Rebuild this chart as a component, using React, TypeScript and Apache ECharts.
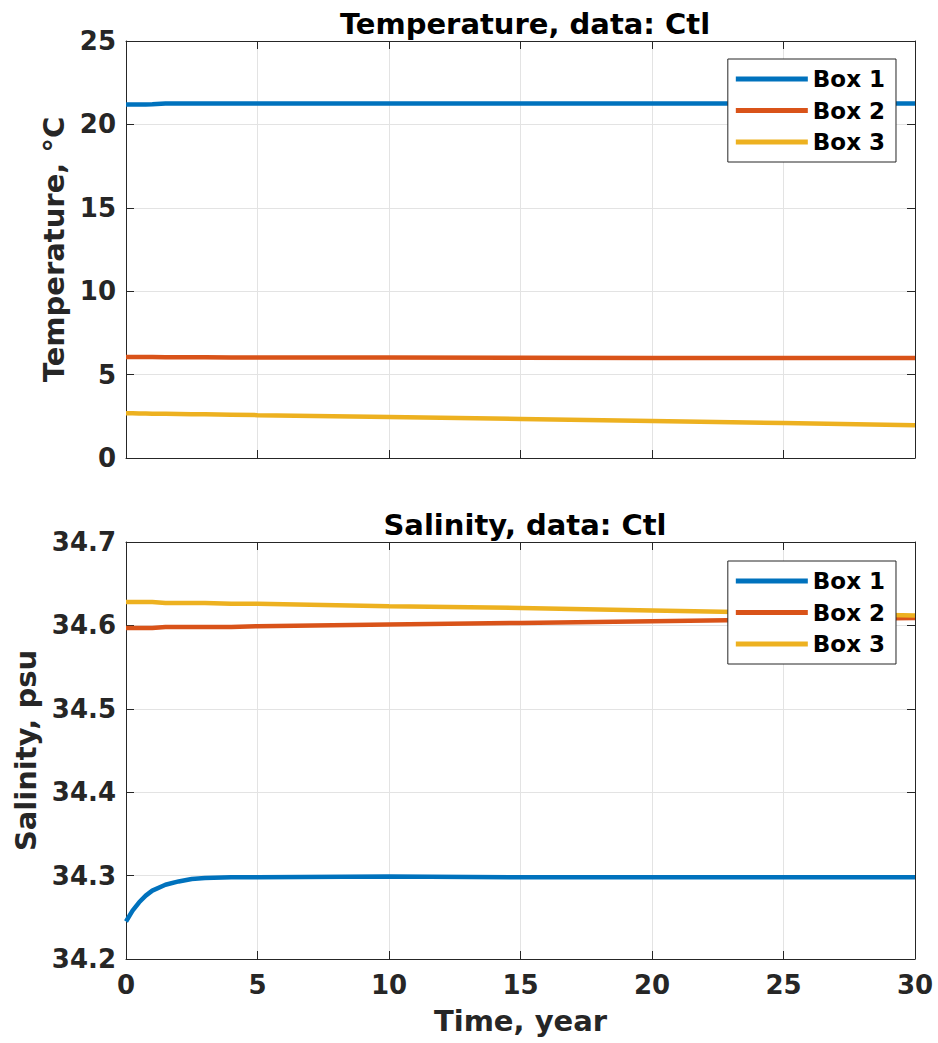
import React, { useEffect, useRef } from "react";
import * as echarts from "echarts";

// Time axis (years) shared by all series
const years = [0, 0.25, 0.5, 0.75, 1, 1.5, 2, 2.5, 3, 4, 5, 10, 15, 20, 25, 30];

// Temperature, °C
const tempBox1 = [21.2, 21.2, 21.2, 21.2, 21.21, 21.25, 21.25, 21.25, 21.25, 21.25, 21.25, 21.25, 21.25, 21.25, 21.25, 21.25];
const tempBox2 = [6.05, 6.05, 6.05, 6.05, 6.05, 6.04, 6.04, 6.04, 6.04, 6.03, 6.03, 6.02, 6.01, 6.0, 5.99, 5.99];
const tempBox3 = [2.68, 2.68, 2.67, 2.67, 2.66, 2.65, 2.64, 2.63, 2.62, 2.6, 2.57, 2.46, 2.34, 2.22, 2.1, 1.96];

// Salinity, psu
const salBox1 = [34.245, 34.258, 34.268, 34.276, 34.282, 34.289, 34.293, 34.296, 34.297, 34.298, 34.298, 34.299, 34.298, 34.298, 34.298, 34.298];
const salBox2 = [34.597, 34.597, 34.597, 34.597, 34.597, 34.598, 34.598, 34.598, 34.598, 34.598, 34.599, 34.601, 34.603, 34.605, 34.607, 34.609];
const salBox3 = [34.628, 34.628, 34.628, 34.628, 34.628, 34.627, 34.627, 34.627, 34.627, 34.626, 34.626, 34.623, 34.621, 34.618, 34.615, 34.612];

const seriesNames = ["Box 1", "Box 2", "Box 3"];
const colors = ["#0072BD", "#D95319", "#EDB120"];

const AXIS_COLOR = "#262626";
const FONT = "DejaVu Sans";

const pairs = (vals: number[]) => vals.map((v, i) => [years[i], v]);

export default function App() {
  const ref = useRef<HTMLDivElement>(null);

  useEffect(() => {
    if (!ref.current) return;
    const chart = echarts.init(ref.current, null, { renderer: "svg" });

    const grids = [
      { left: 126, top: 41, width: 789, height: 417 },
      { left: 126, top: 542, width: 789, height: 417 },
    ];

    const tickFont = {
      color: AXIS_COLOR,
      fontFamily: FONT,
      fontWeight: "bold" as const,
      fontSize: 26,
    };
    const nameFont = { ...tickFont, fontSize: 29 };

    const mainX = (gridIndex: number, showLabels: boolean) => ({
      type: "value" as const,
      gridIndex,
      min: 0,
      max: 30,
      interval: 5,
      position: "bottom" as const,
      axisLine: { show: true, onZero: false, lineStyle: { color: AXIS_COLOR, width: 1 } },
      axisTick: { show: true, inside: true, length: 8, lineStyle: { color: AXIS_COLOR } },
      axisLabel: { show: showLabels, margin: 13, ...tickFont },
      splitLine: { show: true, lineStyle: { color: "#e3e3e3", width: 1 } },
      name: showLabels ? "Time, year" : "",
      nameLocation: "middle" as const,
      nameGap: 47,
      nameTextStyle: nameFont,
    });

    const boxX = (gridIndex: number) => ({
      type: "value" as const,
      gridIndex,
      min: 0,
      max: 30,
      interval: 5,
      position: "top" as const,
      axisLine: { show: true, onZero: false, lineStyle: { color: AXIS_COLOR, width: 1 } },
      axisTick: { show: true, inside: true, length: 8, lineStyle: { color: AXIS_COLOR } },
      axisLabel: { show: false },
      splitLine: { show: false },
    });

    const mainY = (
      gridIndex: number,
      min: number,
      max: number,
      interval: number,
      name: string,
      nameGap: number,
      decimals: number
    ) => ({
      type: "value" as const,
      gridIndex,
      min,
      max,
      interval,
      position: "left" as const,
      axisLine: { show: true, onZero: false, lineStyle: { color: AXIS_COLOR, width: 1 } },
      axisTick: { show: true, inside: true, length: 8, lineStyle: { color: AXIS_COLOR } },
      axisLabel: {
        show: true,
        margin: 10,
        ...tickFont,
        formatter: (v: number) => v.toFixed(decimals),
      },
      splitLine: { show: true, lineStyle: { color: "#e3e3e3", width: 1 } },
      name,
      nameLocation: "middle" as const,
      nameRotate: 90,
      nameGap,
      nameTextStyle: nameFont,
    });

    const boxY = (gridIndex: number, min: number, max: number, interval: number) => ({
      type: "value" as const,
      gridIndex,
      min,
      max,
      interval,
      position: "right" as const,
      axisLine: { show: true, onZero: false, lineStyle: { color: AXIS_COLOR, width: 1 } },
      axisTick: { show: true, inside: true, length: 8, lineStyle: { color: AXIS_COLOR } },
      axisLabel: { show: false },
      splitLine: { show: false },
    });

    const line = (name: string, color: string, data: number[], idx: number) => ({
      type: "line" as const,
      name,
      xAxisIndex: idx,
      yAxisIndex: idx,
      data: pairs(data),
      showSymbol: false,
      smooth: false,
      lineStyle: { color, width: 4.5 },
      itemStyle: { color },
      z: 3,
    });

    const legendBase = {
      orient: "vertical" as const,
      right: 42,
      data: seriesNames,
      icon: "rect",
      itemWidth: 72,
      itemHeight: 5,
      itemGap: 5.5,
      padding: [7, 11, 7, 8],
      backgroundColor: "#ffffff",
      borderColor: "#262626",
      borderWidth: 1,
      borderRadius: 0,
      textStyle: {
        color: "#000000",
        fontFamily: FONT,
        fontWeight: "bold" as const,
        fontSize: 23,
        lineHeight: 26,
      },
      z: 10,
    };

    const titleFont = { color: "#000000", fontFamily: FONT, fontWeight: "bold" as const, fontSize: 29 };

    chart.setOption({
      animation: false,
      backgroundColor: "#ffffff",
      title: [
        { text: "Temperature, data: Ctl", left: 520, top: 4, textAlign: "center", textStyle: titleFont },
        { text: "Salinity, data: Ctl", left: 520, top: 505, textAlign: "center", textStyle: titleFont },
      ],
      legend: [
        { ...legendBase, top: 59 },
        { ...legendBase, top: 561 },
      ],
      grid: grids,
      xAxis: [mainX(0, false), mainX(1, true), boxX(0), boxX(1)],
      yAxis: [
        mainY(0, 0, 25, 5, "Temperature, °C", 54, 0),
        mainY(1, 34.2, 34.7, 0.1, "Salinity, psu", 84, 1),
        boxY(0, 0, 25, 5),
        boxY(1, 34.2, 34.7, 0.1),
      ],
      series: [
        line(seriesNames[0], colors[0], tempBox1, 0),
        line(seriesNames[1], colors[1], tempBox2, 0),
        line(seriesNames[2], colors[2], tempBox3, 0),
        line(seriesNames[0], colors[0], salBox1, 1),
        line(seriesNames[1], colors[1], salBox2, 1),
        line(seriesNames[2], colors[2], salBox3, 1),
      ],
    });

    return () => chart.dispose();
  }, []);

  return (
    <div
      ref={ref}
      style={{ position: "fixed", left: 0, top: 0, width: 938, height: 1043, background: "#fff" }}
    />
  );
}
